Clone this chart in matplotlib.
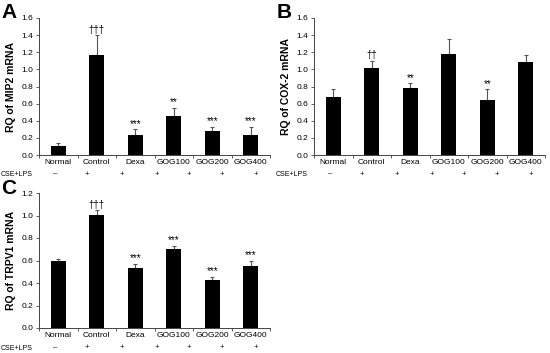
import matplotlib
matplotlib.use("Agg")
import matplotlib.pyplot as plt
from matplotlib.transforms import blended_transform_factory

plt.rcParams['font.family'] = ['Liberation Sans', 'DejaVu Sans']

categories = ["Normal", "Control", "Dexa", "GOG100", "GOG200", "GOG400"]

mip2_vals = [0.11, 1.17, 0.23, 0.45, 0.28, 0.23]
mip2_err = [0.03, 0.23, 0.07, 0.10, 0.05, 0.10]
mip2_sig = ["", "\u2020\u2020\u2020", "***", "**", "***", "***"]

cox2_vals = [0.68, 1.02, 0.78, 1.18, 0.645, 1.09]
cox2_err = [0.09, 0.08, 0.06, 0.17, 0.12, 0.08]
cox2_sig = ["", "\u2020\u2020", "**", "", "**", ""]

trpv1_vals = [0.60, 1.005, 0.53, 0.70, 0.425, 0.553]
trpv1_err = [0.015, 0.04, 0.04, 0.03, 0.03, 0.045]
trpv1_sig = ["", "\u2020\u2020\u2020", "***", "***", "***", "***"]

sign_labels = ["\u2013", "+", "+", "+", "+", "+", "+"]
sign_pos = [-0.08, 0.75, 1.64, 2.55, 3.38, 4.26, 5.12]

W, H = 550, 353
fig = plt.figure(figsize=(W / 100, H / 100), dpi=100)


def px_axes(l, r, t, b):
    return fig.add_axes([l / W, 1 - b / H, (r - l) / W, (b - t) / H])


def panel(ax, vals, errs, sig, ylabel, ymax, letter, letter_xy, row_y, lab_x):
    x = list(range(len(categories)))
    ax.bar(x, vals, width=0.4, color="black", zorder=2)
    ax.errorbar(x, vals, yerr=[[0] * len(errs), errs], fmt="none",
                ecolor="#555555", elinewidth=0.8, capsize=1.5, capthick=0.8, zorder=1)
    for xi, v, e, s in zip(x, vals, errs, sig):
        if s:
            ax.annotate(s, (xi, v + e), xytext=(0, 0.3), textcoords="offset points",
                        ha="center", va="bottom", fontsize=7)
    ax.set_xlim(-0.5, 5.5)
    ax.set_ylim(0, ymax)
    ticks = [round(0.2 * i, 1) for i in range(int(round(ymax / 0.2)) + 1)]
    ax.set_yticks(ticks)
    ax.set_yticklabels([f"{t:.1f}" for t in ticks], fontsize=6)
    ax.set_xticks(x)
    ax.set_xticklabels(categories, fontsize=6)
    ax.set_xticks([i + 0.5 for i in range(-1, 6)], minor=True)
    ax.tick_params(axis="x", which="major", length=0, pad=3)
    ax.tick_params(axis="x", which="minor", length=2, width=0.6, color="#444444")
    ax.tick_params(axis="y", length=2, width=0.6, color="#444444", pad=2)
    for s in ["top", "right"]:
        ax.spines[s].set_visible(False)
    for s in ["left", "bottom"]:
        ax.spines[s].set_linewidth(0.7)
        ax.spines[s].set_color("#444444")
    ax.set_ylabel(ylabel, fontsize=7.5, fontweight="bold", labelpad=4)
    fig.text(letter_xy[0] / W, 1 - letter_xy[1] / H, letter, fontsize=15,
             fontweight="bold", ha="left", va="center")
    tr = blended_transform_factory(ax.transData, fig.transFigure)
    for p, s in zip(sign_pos, sign_labels):
        ax.text(p, 1 - row_y / H, s, transform=tr, ha="center", va="center",
                fontsize=5.5, clip_on=False)
    fig.text(lab_x / W, 1 - row_y / H, "CSE+LPS", fontsize=5, ha="left", va="center")


axA = px_axes(39, 270, 18, 155)
panel(axA, mip2_vals, mip2_err, mip2_sig, "RQ of MIP2 mRNA", 1.6, "A", (1, 13), 174, 1)

axB = px_axes(314, 545, 18, 155)
panel(axB, cox2_vals, cox2_err, cox2_sig, "RQ of COX-2 mRNA", 1.6, "B", (277, 12), 174, 276)

axC = px_axes(39, 270, 193, 328)
panel(axC, trpv1_vals, trpv1_err, trpv1_sig, "RQ of TRPV1 mRNA", 1.2, "C", (1, 189), 348, 1)

fig.savefig("out.png", dpi=100)
